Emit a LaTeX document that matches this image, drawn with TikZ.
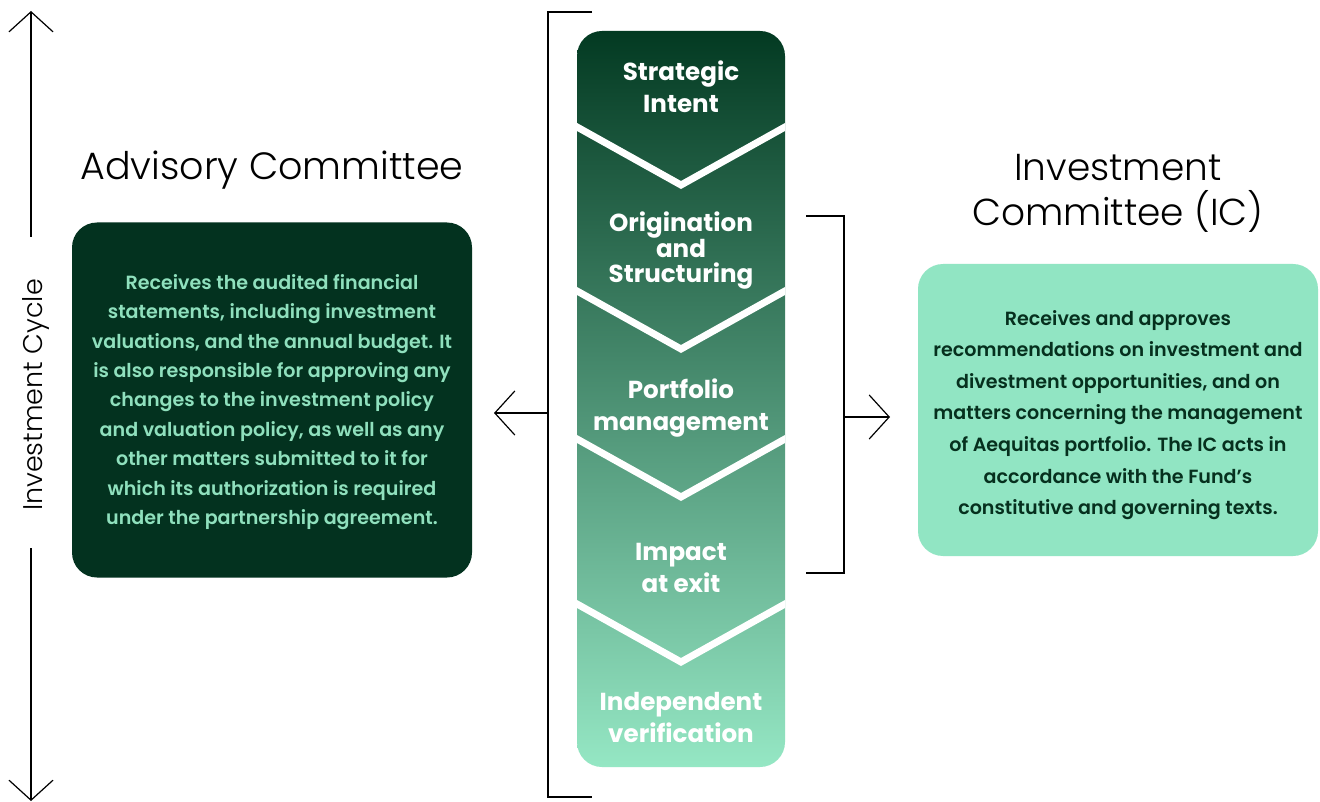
\documentclass[tikz,border=0pt]{standalone}
\usepackage{fontspec}
\setmainfont{Poppins}
\newfontfamily\titlefont{Poppins Light}
\newfontfamily\bodyfont{Poppins SemiBold}
\newfontfamily\labelfont{Poppins Bold}
\usetikzlibrary{arrows.meta}
\definecolor{darkgreen}{HTML}{03321F}
\definecolor{mint}{HTML}{91E5C3}
\definecolor{minttext}{HTML}{8FE0BD}
\definecolor{gradtop}{HTML}{033A22}
\definecolor{gradbot}{HTML}{95E7C4}
\definecolor{ictext}{HTML}{06301E}
\begin{document}
\begin{tikzpicture}[x=1pt,y=-1pt,
  thinline/.style={draw=black, line width=1.2pt},
  barb/.style={thinline, -{Straight Barb[length=20pt,width=44pt]}},
  title/.style={font=\titlefont\fontsize{38}{44}\selectfont, text=black, inner sep=0pt},
  ictitle/.style={font=\titlefont\fontsize{37.5}{45}\selectfont, text=black, inner sep=0pt, align=center},
  box/.style={rounded corners=25pt, minimum width=400pt, inner sep=0pt, align=center},
  stage/.style={font=\labelfont\fontsize{24.6}{32}\selectfont, text=white, inner sep=0pt, align=center},
  chev/.style={draw=white, line width=7pt, line join=miter}
]
\useasboundingbox (0,0) rectangle (1320,802);
\fill[white] (0,0) rectangle (1320,802);

% left investment cycle axis
\node[rotate=90, anchor=base, font=\titlefont\fontsize{27}{30}\selectfont, inner sep=0pt] (cyc) at (42,395) {Investment Cycle};
\coordinate (cycTopStart) at (31,237);
\coordinate (cycTopEnd) at (31,11);
\coordinate (cycBotStart) at (31,548);
\coordinate (cycBotEnd) at (31,801);
\draw[barb] (cycTopStart) -- (cycTopEnd);
\draw[barb] (cycBotStart) -- (cycBotEnd);

% Advisory committee
\node[title, anchor=base] (advTitle) at (272,180) {Advisory Committee};
\node[box, fill=darkgreen, minimum height=355pt, text=minttext,
      font=\bodyfont\fontsize{19.1}{29.4}\selectfont] (adv) at (272,400) {};
\node[text=minttext, font=\bodyfont\fontsize{19.1}{29.4}\selectfont, align=center, inner sep=0pt] (advText) at ([yshift=-2pt]adv.center)
  {Receives the audited financial\\statements, including investment\\valuations, and the annual budget. It\\is also responsible for approving any\\changes to the investment policy\\and valuation policy, as well as any\\other matters submitted to it for\\which its authorization is required\\under the partnership agreement.};

% Investment committee
\node[ictitle, anchor=base] (icTitle) at (1118,226) {Investment\\Committee (IC)};
\node[box, fill=mint, minimum height=292pt] (ic) at (1118,410) {};
\node[text=ictext, font=\bodyfont\fontsize{19.1}{31.6}\selectfont, align=center, inner sep=0pt] (icText) at ([yshift=-5pt]ic.center)
  {Receives and approves\\recommendations on investment and\\divestment opportunities, and on\\matters concerning the management\\of Aequitas portfolio. The IC acts in\\accordance with the Fund’s\\constitutive and governing texts.};

% central column
\node[minimum width=208pt, minimum height=736pt, inner sep=0pt, rounded corners=25pt,
      top color=gradtop, bottom color=gradbot, draw=none] (col) at (681,399) {};
\begin{scope}
  \clip[rounded corners=25pt] (col.north west) rectangle (col.south east);
  \foreach \ye in {127,291,439,604}{
    \draw[chev] (560,\ye-9.5) -- (681,\ye+58) -- (802,\ye-9.5);
  }
\end{scope}
\node[stage, anchor=base] (s1) at (681,113) {Strategic\\Intent};
\node[stage, anchor=base, font=\labelfont\fontsize{24.6}{25.5}\selectfont] (s2) at (681,283) {Origination\\and\\Structuring};
\node[stage, anchor=base] (s3) at (681,430) {Portfolio\\management};
\node[stage, anchor=base] (s4) at (681,592) {Impact\\at exit};
\node[stage, anchor=base] (s5) at (681,742) {Independent\\verification};

% left bracket
\coordinate (lbTop) at (592,12);
\coordinate (lbTopC) at (548,12);
\coordinate (lbBotC) at (548,797);
\coordinate (lbBot) at (592,797);
\draw[thinline] (lbTop) -- (lbTopC) -- (lbBotC) -- (lbBot);
\coordinate (lbMid) at (548,413);
\coordinate (lbArr) at (494,413);
\draw[barb] (lbMid) -- (lbArr);

% right bracket
\coordinate (rbTop) at (806,216);
\coordinate (rbTopC) at (844,216);
\coordinate (rbBotC) at (844,573);
\coordinate (rbBot) at (806,573);
\draw[thinline] (rbTop) -- (rbTopC) -- (rbBotC) -- (rbBot);
\coordinate (rbMid) at (844,417);
\coordinate (rbArr) at (890,417);
\draw[barb] (rbMid) -- (rbArr);
\end{tikzpicture}
\end{document}
